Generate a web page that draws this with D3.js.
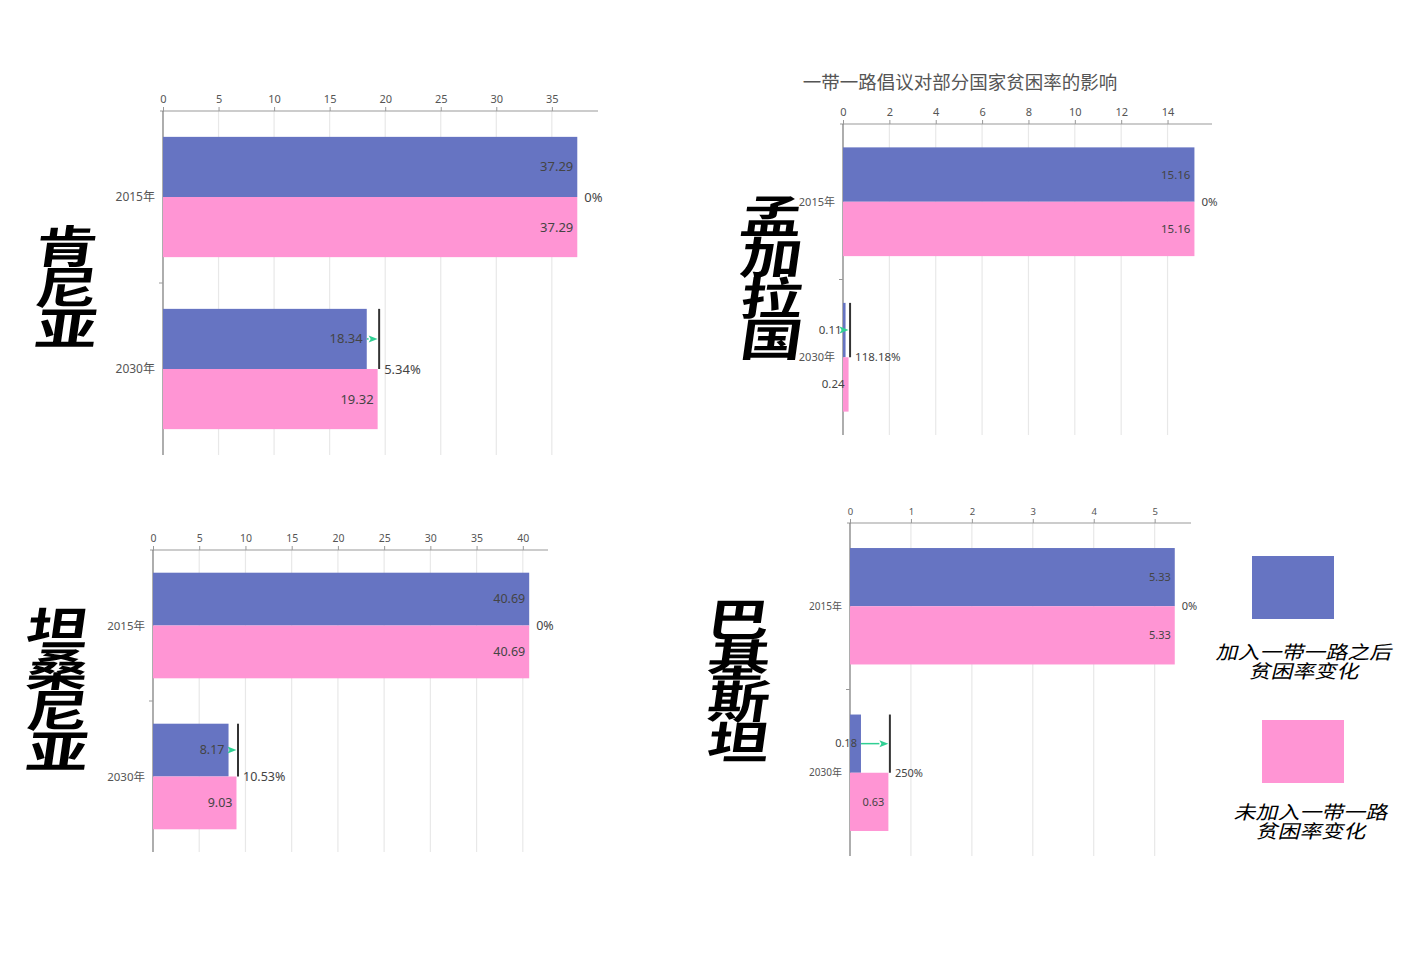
<!DOCTYPE html>
<html><head><meta charset="utf-8">
<script src="https://cdn.jsdelivr.net/npm/d3@7"></script>
<style>body{margin:0;background:#fff}svg{display:block}</style>
</head><body>
<script>
// ---- data ----
const countries = ["肯尼亚", "孟加拉国", "坦桑尼亚", "巴基斯坦"];
const years = ["2015年", "2030年"];
const seriesNames = ["加入一带一路之后贫困率变化", "未加入一带一路贫困率变化"];
const joinedValues = [[37.29, 18.34], [15.16, 0.11], [40.69, 8.17], [5.33, 0.18]];
const notJoinedValues = [[37.29, 19.32], [15.16, 0.24], [40.69, 9.03], [5.33, 0.63]];
const changeLabels = [["0%", "5.34%"], ["0%", "118.18%"], ["0%", "10.53%"], ["0%", "250%"]];
const tickValues = [
  [0, 5, 10, 15, 20, 25, 30, 35],
  [0, 2, 4, 6, 8, 10, 12, 14],
  [0, 5, 10, 15, 20, 25, 30, 35, 40],
  [0, 1, 2, 3, 4, 5]
];
const title = "一带一路倡议对部分国家贫困率的影响";
const legendLines = [["加入一带一路之后", "贫困率变化"], ["未加入一带一路", "贫困率变化"]];

// ---- layout ----
const W = 1418, H = 954;
const BLUE = "#6674c2", PINK = "#ff95d4", GREEN = "#2fcf93";
const panels = [
  {x0: 163, x1: 598, y0: 111, y1: 455, tickFs: 11, catFs: 12, valFs: 13, nameX: 67, nameY: 246},
  {x0: 843, x1: 1212, y0: 124, y1: 435, tickFs: 11, catFs: 11, valFs: 11.5, nameX: 772, nameY: 216},
  {x0: 153, x1: 548, y0: 550, y1: 852, tickFs: 10.5, catFs: 11.5, valFs: 12.5, nameX: 58, nameY: 628},
  {x0: 850, x1: 1191, y0: 523, y1: 856, tickFs: 9.5, catFs: 10, valFs: 11, nameX: 739, nameY: 619}
];

const svg = d3.select("body").append("svg").attr("width", W).attr("height", H)
  .style("font-family", "'Noto Sans', 'Noto Sans CJK SC', sans-serif");

svg.append("text").attr("x", 960).attr("y", 89).attr("text-anchor", "middle")
  .attr("font-size", 18.5).attr("fill", "#555").attr("font-family", "'Noto Sans CJK SC'")
  .text(title);

panels.forEach((p, i) => {
  const maxV = d3.max([...joinedValues[i], ...notJoinedValues[i]]);
  const x = d3.scaleLinear().domain([0, maxV * 1.05]).range([p.x0, p.x1]);
  const y = d3.scaleBand().domain(years).range([p.y0, p.y1]);
  const sub = d3.scaleBand().domain([0, 1]).range([0, y.bandwidth()]).paddingInner(0).paddingOuter(0.43);
  const g = svg.append("g");

  // grid
  g.selectAll(".grid").data(tickValues[i].filter(d => d > 0)).join("line")
    .attr("x1", d => x(d)).attr("x2", d => x(d)).attr("y1", p.y0).attr("y2", p.y1)
    .attr("stroke", "#e8e8e8").attr("stroke-width", 1.2);

  // top axis
  const ax = g.append("g").attr("transform", `translate(0,${p.y0})`)
    .call(d3.axisTop(x).tickValues(tickValues[i]).tickFormat(d3.format("d"))
      .tickSize(4).tickPadding(4).tickSizeOuter(0));
  ax.select(".domain").attr("stroke", "#999").attr("d", `M${p.x0 - 3},0H${p.x1}`);
  ax.selectAll(".tick line").attr("stroke", "#999");
  ax.selectAll(".tick text").attr("fill", "#555").attr("font-size", p.tickFs)
    .attr("font-family", "'Noto Sans', sans-serif");

  // left axis
  g.append("line").attr("x1", p.x0).attr("x2", p.x0).attr("y1", p.y0).attr("y2", p.y1)
    .attr("stroke", "#777").attr("stroke-width", 1.2);
  g.selectAll(".ltick").data(years.slice(1)).join("line")
    .attr("x1", p.x0 - 4).attr("x2", p.x0).attr("y1", d => y(d)).attr("y2", d => y(d))
    .attr("stroke", "#999");
  g.selectAll(".cat").data(years).join("text")
    .attr("x", p.x0 - 8).attr("y", d => y(d) + y.bandwidth() / 2).attr("dy", "0.35em")
    .attr("text-anchor", "end").attr("font-size", p.catFs).attr("fill", "#555")
    .text(d => d);

  years.forEach((yr, k) => {
    const vals = [joinedValues[i][k], notJoinedValues[i][k]];
    const cols = [BLUE, PINK];
    vals.forEach((v, s) => {
      g.append("rect").attr("x", x(0)).attr("y", y(yr) + sub(s))
        .attr("width", x(v) - x(0)).attr("height", sub.bandwidth())
        .attr("fill", cols[s]);
    });
    vals.forEach((v, s) => {
      g.append("text").attr("x", x(v) - 4).attr("y", y(yr) + sub(s) + sub.bandwidth() / 2)
        .attr("dy", "0.35em").attr("text-anchor", "end").attr("font-size", p.valFs)
        .attr("fill", "#444").text(v.toFixed(2));
    });
    const mid = y(yr) + sub(1);
    if (vals[1] !== vals[0]) {
      const lx = x(vals[1]) + 1.5;
      g.append("line").attr("x1", lx).attr("x2", lx).attr("y1", y(yr) + sub(0)).attr("y2", mid)
        .attr("stroke", "#333").attr("stroke-width", 2);
      const ay = y(yr) + sub(0) + sub.bandwidth() / 2;
      const tip = lx - 1.5, base = tip - 9;
      if (base > x(vals[0]))
        g.append("line").attr("x1", x(vals[0])).attr("x2", base).attr("y1", ay).attr("y2", ay)
          .attr("stroke", GREEN).attr("stroke-width", 1.5);
      g.append("path").attr("d", `M${tip},${ay}L${base},${ay - 3.5}L${base + 2},${ay}L${base},${ay + 3.5}Z`)
        .attr("fill", GREEN);
      g.append("text").attr("x", lx + 5).attr("y", mid).attr("dy", "0.35em")
        .attr("font-size", p.valFs).attr("fill", "#444").text(changeLabels[i][k]);
    } else {
      g.append("text").attr("x", x(vals[1]) + 7).attr("y", mid).attr("dy", "0.35em")
        .attr("font-size", p.valFs).attr("fill", "#444").text(changeLabels[i][k]);
    }
  });

  // big country name (vertical, stylised)
  const chars = Array.from(countries[i]);
  const ng = svg.append("g");
  chars.forEach((c, j) => {
    ng.append("text")
      .attr("transform", `translate(${p.nameX},${p.nameY + j * 41}) skewX(-8) scale(1,0.72)`)
      .attr("text-anchor", "middle").attr("dy", "0.38em")
      .attr("font-family", "'Noto Sans CJK SC'").attr("font-weight", 700)
      .attr("font-size", 62).attr("fill", "#000").text(c);
  });
});

// legend
const leg = [{rx: 1252, ry: 556, tx: 1305, ty: 652, c: BLUE}, {rx: 1262, ry: 720, tx: 1312, ty: 812, c: PINK}];
leg.forEach((l, i) => {
  svg.append("rect").attr("x", l.rx).attr("y", l.ry).attr("width", 82).attr("height", 63).attr("fill", l.c)
    .attr("aria-label", seriesNames[i]);
  legendLines[i].forEach((t, j) => {
    svg.append("text")
      .attr("transform", `translate(${l.tx},${l.ty + j * 19}) skewX(-14) scale(1,0.85)`)
      .attr("text-anchor", "middle").attr("dy", "0.35em")
      .attr("font-family", "'Noto Sans CJK SC'").attr("font-size", 22).attr("fill", "#000")
      .text(t);
  });
});
</script>
</body></html>
